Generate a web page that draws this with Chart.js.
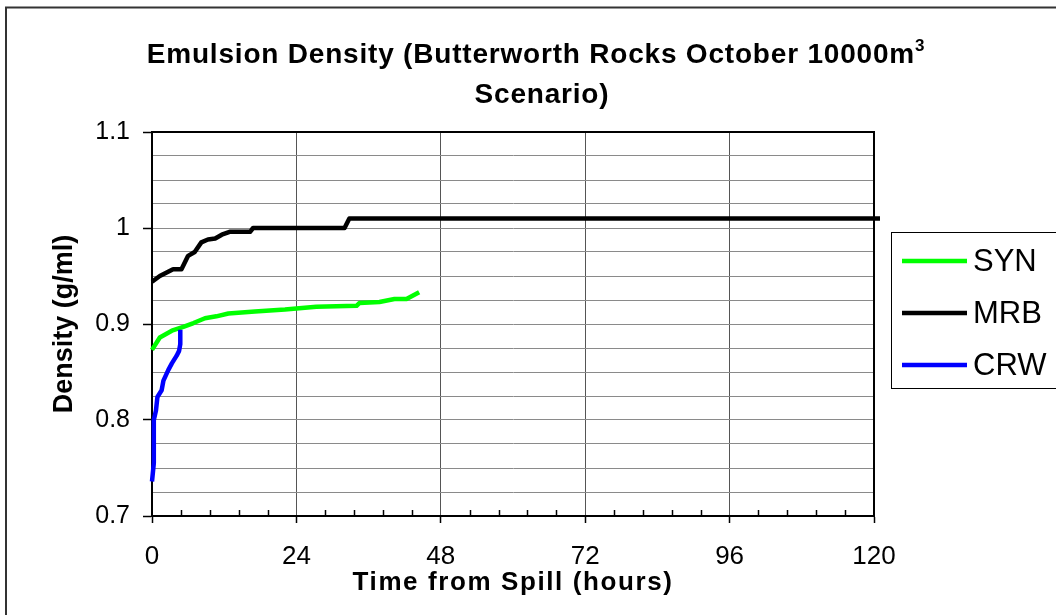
<!DOCTYPE html>
<html><head><meta charset="utf-8">
<script src="https://cdn.jsdelivr.net/npm/chart.js@4"></script>
<style>html,body{margin:0;padding:0;background:#fff;}canvas{display:block;}</style>
</head><body>
<canvas id="c" width="1056" height="615"></canvas>
<script>
const FONT = '"Liberation Sans", Arial, sans-serif';
const titleLines = ['Emulsion Density (Butterworth Rocks October 10000m', 'Scenario)'];
const titleSup = '3';
const xTitle = 'Time from Spill (hours)';
const yTitle = 'Density (g/ml)';
const seriesNames = ['SYN', 'MRB', 'CRW'];
const seriesColors = ['#00FF00', '#000000', '#0000FF'];
const xTicks = [0, 24, 48, 72, 96, 120];
const yTicks = [0.7, 0.8, 0.9, 1.0, 1.1];

const hoursSYN = [0, 1.3, 3.3, 5.2, 6.9, 8.8, 10.7, 12.7, 17.1, 22.1, 27.3, 34.0, 34.5, 37.8, 40.3, 42.3, 44.4];
const densitySYN = [0.873, 0.886, 0.893, 0.897, 0.901, 0.906, 0.908, 0.911, 0.913, 0.915, 0.918, 0.919, 0.922, 0.923, 0.926, 0.926, 0.933];

const hoursMRB = [0, 1.3, 3.5, 4.9, 6.0, 7.1, 8.2, 9.3, 10.5, 11.6, 12.9, 16.3, 16.8, 32.0, 32.8, 121];
const densityMRB = [0.944, 0.950, 0.957, 0.957, 0.971, 0.975, 0.985, 0.988, 0.989, 0.993, 0.996, 0.996, 1.0, 1.0, 1.01, 1.01];

const hoursCRW = [0, 0.3, 0.3, 0.66, 0.9, 1.6, 1.9, 2.7, 3.3, 4.1, 4.5, 4.7, 4.7];
const densityCRW = [0.736, 0.755, 0.80, 0.810, 0.824, 0.831, 0.841, 0.852, 0.859, 0.867, 0.872, 0.879, 0.894];

const toPoints = (xs, ys) => xs.map((x, i) => ({x: x, y: ys[i]}));
const seriesData = [toPoints(hoursSYN, densitySYN), toPoints(hoursMRB, densityMRB), toPoints(hoursCRW, densityCRW)];
const isMajorY = v => yTicks.some(t => Math.abs(t - v) < 1e-6);

const decor = {
  id: 'decor',
  beforeDraw(chart) {
    const ctx = chart.ctx;
    ctx.save();
    ctx.fillStyle = '#fff';
    ctx.fillRect(0, 0, chart.width, chart.height);
    ctx.strokeStyle = '#333';
    ctx.lineWidth = 2;
    ctx.strokeRect(6, 7.5, chart.width + 20, chart.height + 20);
    ctx.restore();
    const xs = chart.scales.x;
    if (xs && !xs._lsPatched) {
      const orig = xs.drawTitle.bind(xs);
      xs.drawTitle = function () {
        const c = this.ctx;
        c.save();
        c.letterSpacing = '1.6px';
        orig();
        c.restore();
      };
      xs._lsPatched = true;
    }
  },
  beforeDatasetsDraw(chart) {
    const {ctx, chartArea: a, scales: {x}} = chart;
    ctx.save();
    ctx.strokeStyle = '#000';
    ctx.lineWidth = 1.5;
    for (let i = 0; i < xTicks.length - 1; i++) {
      for (let k = 1; k < 5; k++) {
        const v = xTicks[i] + (xTicks[i + 1] - xTicks[i]) * k / 5;
        const px = Math.round(x.getPixelForValue(v)) + 0.5;
        ctx.beginPath();
        ctx.moveTo(px, a.bottom - 6);
        ctx.lineTo(px, a.bottom);
        ctx.stroke();
      }
    }
    ctx.lineWidth = 2;
    ctx.strokeRect(a.left, a.top, a.right - a.left, a.bottom - a.top);
    ctx.restore();
  },
  afterDraw(chart) {
    const {ctx, chartArea: a} = chart;
    ctx.save();
    ctx.fillStyle = '#000';
    ctx.textAlign = 'left';
    ctx.textBaseline = 'alphabetic';
    ctx.font = 'bold 28px ' + FONT;
    ctx.letterSpacing = '0.8px';
    const w1 = ctx.measureText(titleLines[0]).width;
    ctx.font = 'bold 17px ' + FONT;
    const ws = ctx.measureText(titleSup).width;
    const cx = chart.width / 2 + 8;
    const x0 = cx - (w1 + ws) / 2;
    ctx.font = 'bold 28px ' + FONT;
    ctx.fillText(titleLines[0], x0, 63);
    ctx.font = 'bold 17px ' + FONT;
    ctx.fillText(titleSup, x0 + w1, 51);
    ctx.font = 'bold 28px ' + FONT;
    const w2 = ctx.measureText(titleLines[1]).width;
    ctx.fillText(titleLines[1], cx + 6 - w2 / 2, 103);
    ctx.letterSpacing = '0px';
    const lx = a.right + 17, ly = a.top + 100;
    ctx.strokeStyle = '#000';
    ctx.lineWidth = 1;
    ctx.strokeRect(Math.round(lx) + 0.5, Math.round(ly) + 0.5, 250, 156);
    ctx.font = '31px ' + FONT;
    ctx.textBaseline = 'middle';
    chart.data.datasets.forEach((ds, i) => {
      const y = ly + 29 + i * 52;
      ctx.strokeStyle = ds.borderColor;
      ctx.lineWidth = 4.5;
      ctx.beginPath();
      ctx.moveTo(lx + 11, y);
      ctx.lineTo(lx + 76, y);
      ctx.stroke();
      ctx.fillStyle = '#000';
      ctx.fillText(ds.label, lx + 82, y + 1);
    });
    ctx.restore();
  }
};

const datasets = seriesNames.map((name, i) => ({
  label: name,
  data: seriesData[i],
  borderColor: seriesColors[i],
  backgroundColor: seriesColors[i],
  borderWidth: 4.5,
  pointRadius: 0,
  tension: 0,
  fill: false,
  borderJoinStyle: 'round',
  clip: false,
  order: 2 - i
}));

new Chart(document.getElementById('c'), {
  type: 'line',
  data: {datasets: datasets},
  options: {
    responsive: false,
    animation: false,
    events: [],
    layout: {padding: {top: 132, right: 182, left: 0, bottom: 0}},
    plugins: {legend: {display: false}, title: {display: false}, tooltip: {enabled: false}},
    scales: {
      x: {
        type: 'linear', min: 0, max: 120,
        afterBuildTicks: s => { s.ticks = xTicks.map(v => ({value: v})); },
        afterFit: s => { s.height = 99; },
        ticks: {color: '#000', font: {family: FONT, size: 26}, padding: 18, maxRotation: 0, autoSkip: false,
          callback: v => String(v)},
        grid: {color: '#555', lineWidth: 1, drawTicks: true, tickLength: 7, tickColor: '#000', tickWidth: 1.5},
        border: {color: '#000', width: 2},
        title: {display: true, text: xTitle, color: '#000', font: {family: FONT, size: 26, weight: 'bold'}, padding: {top: 0, bottom: 17}}
      },
      y: {
        type: 'linear', min: 0.7, max: 1.1,
        afterFit: s => { s.width = 152; },
        ticks: {stepSize: 0.025, autoSkip: false, color: '#000', font: {family: FONT, size: 25}, padding: 13,
          callback: v => { const m = yTicks.find(t => Math.abs(t - v) < 1e-6); return m === undefined ? '' : String(m); }},
        grid: {color: '#8a8a8a', lineWidth: 1, drawTicks: true, tickLength: 9,
          tickColor: c => isMajorY(c.tick.value) ? '#000' : 'rgba(0,0,0,0)', tickWidth: 1.5},
        border: {color: '#000', width: 2},
        title: {display: true, text: yTitle, color: '#000', font: {family: FONT, size: 27, weight: 'bold'}, padding: {top: 48, bottom: 0}}
      }
    }
  },
  plugins: [decor]
});
</script>
</body></html>
